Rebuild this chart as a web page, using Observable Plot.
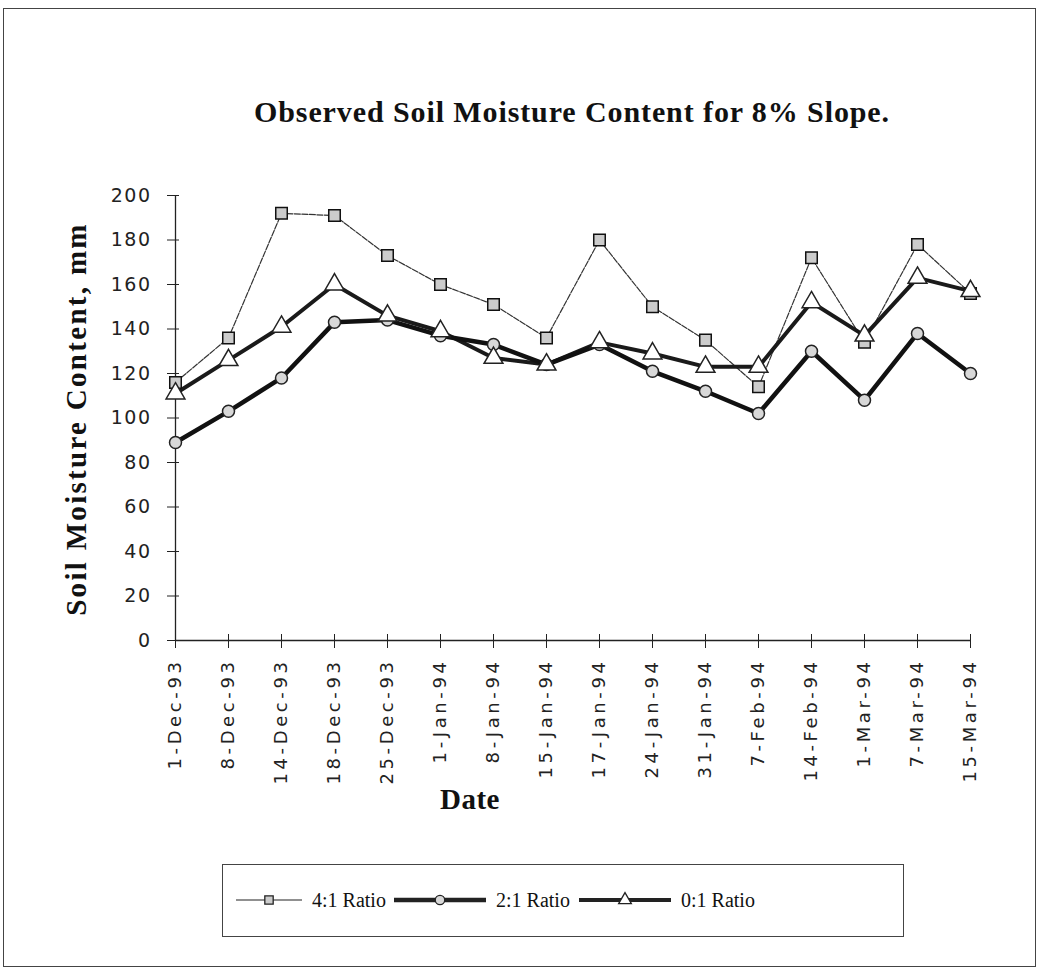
<!DOCTYPE html>
<html>
<head>
<meta charset="utf-8">
<script src="https://cdn.jsdelivr.net/npm/d3@7"></script>
<script src="https://cdn.jsdelivr.net/npm/@observablehq/plot@0.6"></script>
<style>
  html, body { margin: 0; padding: 0; background: #fff; }
  #wrap { position: relative; width: 1040px; height: 969px; overflow: hidden; }
  #frame { position: absolute; left: 3px; top: 8px; width: 1033px; height: 959px; border: 1.5px solid #444; box-sizing: border-box; }
  #chart { position: absolute; left: 0; top: 0; }
  .serif { font-family: "Liberation Serif", "DejaVu Serif", serif; color: #111; }
  #title { position: absolute; left: 0; width: 1144px; top: 95px; text-align: center; font-weight: bold; font-size: 30px; letter-spacing: 0.9px; }
  #ylab { position: absolute; left: 76px; top: 419px; transform: translate(-50%, -50%) rotate(-90deg); white-space: nowrap; font-weight: bold; font-size: 29px; letter-spacing: 2.3px; }
  #xlab { position: absolute; left: 470px; top: 799px; transform: translate(-50%, -50%); font-weight: bold; font-size: 29px; letter-spacing: 0.5px; }
  #legend { position: absolute; left: 222px; top: 864px; width: 682px; height: 73px; border: 1.5px solid #444; box-sizing: border-box; }
  #legend .item { position: absolute; top: 0; height: 70px; display: flex; align-items: center; font-size: 20px; }
  #legend svg { margin-right: 10px; }
  g[aria-label="x-axis tick label"] text { letter-spacing: 3.6px; }
  g[aria-label="y-axis tick label"] text { letter-spacing: 1.5px; }
</style>
</head>
<body>
<div id="wrap">
  <div id="frame"></div>
  <div id="chart"></div>
  <div id="title" class="serif">Observed Soil Moisture Content for 8% Slope.</div>
  <div id="ylab" class="serif">Soil Moisture Content, mm</div>
  <div id="xlab" class="serif">Date</div>
  <div id="legend" class="serif"></div>
</div>
<script>
const dates = ["1-Dec-93","8-Dec-93","14-Dec-93","18-Dec-93","25-Dec-93","1-Jan-94","8-Jan-94","15-Jan-94","17-Jan-94","24-Jan-94","31-Jan-94","7-Feb-94","14-Feb-94","1-Mar-94","7-Mar-94","15-Mar-94"];
const ratio41 = [116,136,192,191,173,160,151,136,180,150,135,114,172,134,178,156];
const ratio21 = [89,103,118,143,144,137,133,124,133,121,112,102,130,108,138,120];
const ratio01 = [111,126,141,160,146,139,127,124,134,129,123,123,152,137,163,157];
const seriesNames = ["4:1 Ratio", "2:1 Ratio", "0:1 Ratio"];
const yTicks = [0,20,40,60,80,100,120,140,160,180,200];

const rows = [];
[ratio41, ratio21, ratio01].forEach((arr, k) => {
  arr.forEach((v, i) => rows.push({series: seriesNames[k], date: dates[i], value: v}));
});
const of = s => rows.filter(d => d.series === s);

const tickFont = {fontFamily: "'DejaVu Sans', Arial, sans-serif", fontSize: 18, fill: "#222"};

const chart = Plot.plot({
  width: 1040,
  height: 969,
  marginLeft: 175,
  marginRight: 70,
  marginTop: 195,
  marginBottom: 329,
  style: {background: "transparent", overflow: "visible"},
  x: {type: "point", domain: dates, padding: 0},
  y: {domain: [0, 200]},
  marks: [
    Plot.axisY({ticks: yTicks, tickSize: 8, tickPadding: 16, label: null, ...tickFont, fontSize: 19, stroke: "#222"}),
    Plot.axisY({ticks: yTicks, tickSize: -4, text: null, label: null, stroke: "#222"}),
    Plot.axisX({tickSize: 8, tickRotate: -90, tickPadding: 10, label: null, ...tickFont, stroke: "#222"}),
    Plot.axisX({tickSize: -6, text: null, label: null, stroke: "#222"}),
    Plot.ruleX([dates[0]], {stroke: "#222", strokeWidth: 1.3}),
    Plot.ruleY([0], {stroke: "#222", strokeWidth: 1.3}),
    Plot.line(of("4:1 Ratio"), {x: "date", y: "value", stroke: "#333", strokeWidth: 1.2, strokeDasharray: "6,1.5"}),
    Plot.line(of("0:1 Ratio"), {x: "date", y: "value", stroke: "#1a1a1a", strokeWidth: 4}),
    Plot.line(of("2:1 Ratio"), {x: "date", y: "value", stroke: "#111", strokeWidth: 4.5}),
    Plot.dot(of("4:1 Ratio"), {x: "date", y: "value", symbol: "square", r: 6.5, fill: "#ccc", stroke: "#111", strokeWidth: 1.5}),
    Plot.dot(of("2:1 Ratio"), {x: "date", y: "value", symbol: "circle", r: 6, fill: "#d8d8d8", stroke: "#222", strokeWidth: 1.5}),
    Plot.dot(of("0:1 Ratio"), {x: "date", y: "value", symbol: "triangle", r: 7, fill: "#fff", stroke: "#222", strokeWidth: 1.5})
  ]
});
document.getElementById("chart").appendChild(chart);

// Legend
const legend = document.getElementById("legend");
const legendSpec = [
  {name: seriesNames[0], left: 13, sw: 1.2, sym: "square", fill: "#ccc", lw: 66},
  {name: seriesNames[1], left: 171, sw: 4.5, sym: "circle", fill: "#d8d8d8", lw: 92},
  {name: seriesNames[2], left: 356, sw: 4, sym: "triangle", fill: "#fff", lw: 92}
];
legendSpec.forEach(s => {
  const item = document.createElement("div");
  item.className = "item";
  item.style.left = s.left + "px";
  const svg = d3.create("svg").attr("width", s.lw).attr("height", 20);
  svg.append("line").attr("x1", 0).attr("x2", s.lw).attr("y1", 10).attr("y2", 10)
    .attr("stroke", "#222").attr("stroke-width", s.sw);
  const symbol = s.sym === "square" ? d3.symbolSquare : s.sym === "circle" ? d3.symbolCircle : d3.symbolTriangle;
  svg.append("path").attr("d", d3.symbol(symbol, 70)()).attr("transform", `translate(${s.lw/2},10)`)
    .attr("fill", s.fill).attr("stroke", "#222").attr("stroke-width", 1.3);
  item.appendChild(svg.node());
  const t = document.createElement("span");
  t.textContent = s.name;
  item.appendChild(t);
  legend.appendChild(item);
});
</script>
</body>
</html>
